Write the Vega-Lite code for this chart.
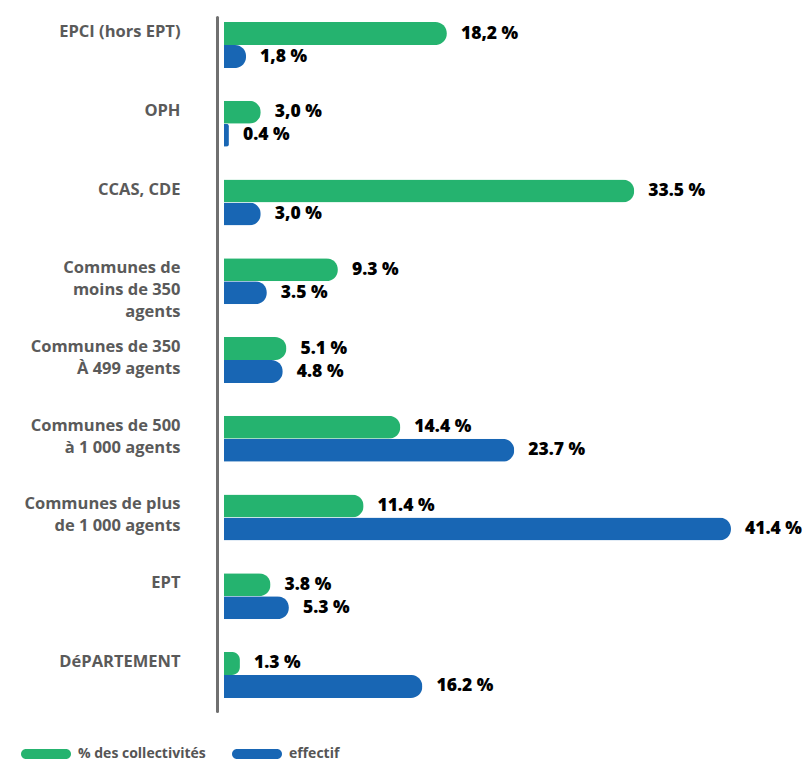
{
  "$schema": "https://vega.github.io/schema/vega-lite/v6.json",
  "width": 507,
  "height": 694,
  "autosize": {"type": "none"},
  "padding": {"left": 224, "top": 17, "right": 72, "bottom": 50},
  "config": {"view": {"stroke": null}, "font": "Open Sans"},
  "data": {
    "values": [
      {"cat": "EPCI (hors EPT)", "serie": "% des collectivités", "val": 18.2, "label": "18,2 %"},
      {"cat": "EPCI (hors EPT)", "serie": "effectif", "val": 1.8, "label": "1,8 %"},
      {"cat": "OPH", "serie": "% des collectivités", "val": 3.0, "label": "3,0 %"},
      {"cat": "OPH", "serie": "effectif", "val": 0.4, "label": "0.4 %"},
      {"cat": "CCAS, CDE", "serie": "% des collectivités", "val": 33.5, "label": "33.5 %"},
      {"cat": "CCAS, CDE", "serie": "effectif", "val": 3.0, "label": "3,0 %"},
      {"cat": "Communes de|moins de 350|agents", "serie": "% des collectivités", "val": 9.3, "label": "9.3 %"},
      {"cat": "Communes de|moins de 350|agents", "serie": "effectif", "val": 3.5, "label": "3.5 %"},
      {"cat": "Communes de 350|À 499 agents", "serie": "% des collectivités", "val": 5.1, "label": "5.1 %"},
      {"cat": "Communes de 350|À 499 agents", "serie": "effectif", "val": 4.8, "label": "4.8 %"},
      {"cat": "Communes de 500|à 1 000 agents", "serie": "% des collectivités", "val": 14.4, "label": "14.4 %"},
      {"cat": "Communes de 500|à 1 000 agents", "serie": "effectif", "val": 23.7, "label": "23.7 %"},
      {"cat": "Communes de plus|de 1 000 agents", "serie": "% des collectivités", "val": 11.4, "label": "11.4 %"},
      {"cat": "Communes de plus|de 1 000 agents", "serie": "effectif", "val": 41.4, "label": "41.4 %"},
      {"cat": "EPT", "serie": "% des collectivités", "val": 3.8, "label": "3.8 %"},
      {"cat": "EPT", "serie": "effectif", "val": 5.3, "label": "5.3 %"},
      {"cat": "DéPARTEMENT", "serie": "% des collectivités", "val": 1.3, "label": "1.3 %"},
      {"cat": "DéPARTEMENT", "serie": "effectif", "val": 16.2, "label": "16.2 %"}
    ]
  },
  "encoding": {
    "y": {
      "field": "cat",
      "type": "nominal",
      "sort": null,
      "scale": {"paddingInner": 0.416, "paddingOuter": 0.115, "align": 0.28},
      "axis": {
        "title": null,
        "labelExpr": "split(datum.label, '|')",
        "labelFontSize": 16.5,
        "labelFontWeight": "bold",
        "labelColor": "#5a5a5a",
        "labelAlign": "right",
        "labelBaseline": "top",
        "labelOffset": -21,
        "labelPadding": 37,
        "labelLineHeight": 22,
        "labelLimit": 300,
        "ticks": false,
        "tickSize": 0,
        "domainColor": "#707070",
        "domainWidth": 3,
        "domainCap": "round",
        "offset": 7,
        "grid": false
      }
    },
    "yOffset": {"field": "serie", "type": "nominal", "sort": ["% des collectivités", "effectif"]},
    "x": {
      "field": "val",
      "type": "quantitative",
      "scale": {"domain": [0, 41.4], "nice": false, "zero": true},
      "axis": null
    }
  },
  "layer": [
    {
      "mark": {"type": "bar", "cornerRadiusEnd": 11.5},
      "encoding": {
        "color": {
          "field": "serie",
          "type": "nominal",
          "scale": {"domain": ["% des collectivités", "effectif"], "range": ["#25b36f", "#1866b4"]},
          "legend": {
            "title": null,
            "orient": "none",
            "legendX": -198,
            "legendY": 717,
            "direction": "horizontal",
            "symbolType": "M-1,-0.25L1,-0.25A0.25,0.25 0 0 1 1,0.25L-1,0.25A0.25,0.25 0 0 1 -1,-0.25Z",
            "symbolSize": 1600,
            "symbolStrokeWidth": 0,
            "labelFontSize": 14,
            "labelFontWeight": "bold",
            "labelColor": "#555555",
            "labelOffset": 12,
            "labelLimit": 300,
            "columnPadding": 26
          }
        }
      }
    },
    {
      "mark": {"type": "text", "align": "left", "baseline": "middle", "dx": 14, "fontSize": 17.5, "fontWeight": 800, "color": "#000000"},
      "encoding": {"text": {"field": "label", "type": "nominal"}}
    }
  ]
}
